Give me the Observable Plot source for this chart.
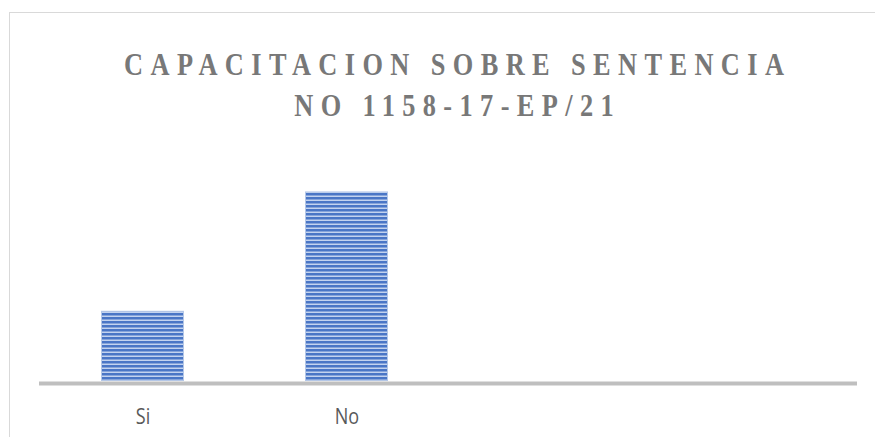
<!DOCTYPE html>
<html>
<head>
<meta charset="utf-8">
<script src="https://cdn.jsdelivr.net/npm/d3@7"></script>
<script src="https://cdn.jsdelivr.net/npm/@observablehq/plot@0.6"></script>
<style>
  html, body { margin: 0; padding: 0; background: #fff; width: 875px; height: 437px; overflow: hidden; }
  #wrap { position: relative; width: 875px; height: 437px; }
  #frame { position: absolute; left: 9px; top: 12px; width: 900px; height: 500px; border: 1px solid #d9d9d9; box-sizing: border-box; }
  #title { position: absolute; left: 0; top: 44px; width: 908px; text-align: center;
           font-family: "Liberation Serif", "Times New Roman", serif; font-weight: bold;
           font-size: 31px; line-height: 41px; letter-spacing: 8.7px; color: #787878; padding-left: 8.7px; box-sizing: border-box;
           transform: scaleX(0.85); transform-origin: 454px 0; }
  #chart { position: absolute; left: 0; top: 0; }
</style>
</head>
<body>
<div id="wrap">
  <div id="frame"></div>
  <div id="title">CAPACITACION SOBRE SENTENCIA<br>NO 1158-17-EP/21</div>
  <div id="chart"></div>
</div>
<script>
const categories = ["Si", "No"];
const emptySlots = ["_3", "_4"];
const values = [10, 27];

const data = categories.map((c, i) => ({category: c, value: values[i]}));

const plot = Plot.plot({
  width: 875,
  height: 437,
  marginLeft: 39,
  marginRight: 18,
  marginTop: 170.4,
  marginBottom: 56,
  style: {background: "transparent", overflow: "visible"},
  x: {domain: [...categories, ...emptySlots], paddingInner: 0.594, paddingOuter: 0.297, axis: null},
  y: {domain: [0, 30], axis: null},
  marks: [
    Plot.barY(data, {x: "category", y: "value", fill: "url(#stripes)", stroke: "#b4c7e7", strokeWidth: 1, inset: 0.5}),
    Plot.ruleY([0], {stroke: "#bfbfbf", strokeWidth: 4, dy: 2}),
    Plot.text(categories, {x: d => d, y: 0, text: d => d, dy: 36, fontSize: 21, fill: "#595959",
      fontFamily: "'Open Sans', sans-serif", className: "lbl"})
  ]
});

const svg = d3.select(plot);
const defs = svg.insert("defs", ":first-child");
const pat = defs.append("pattern").attr("id", "stripes").attr("patternUnits", "userSpaceOnUse")
  .attr("width", 8).attr("height", 4).attr("y", 1);
pat.append("rect").attr("width", 8).attr("height", 4).attr("fill", "#c3d3ef");
pat.append("rect").attr("width", 8).attr("height", 2.5).attr("fill", "#4a76c6");

document.getElementById("chart").appendChild(plot);

// Condense the category labels horizontally (narrow sans look), about each label's own centre
svg.selectAll("text").each(function() {
  if (!categories.includes(this.textContent)) return;
  const bb = this.getBBox();
  const bcx = bb.x + bb.width / 2;
  const tr = this.getAttribute("transform") || "";
  this.setAttribute("transform", `${tr} translate(${bcx},0) scale(0.86,1) translate(${-bcx},0)`.trim());
});
</script>
</body>
</html>
